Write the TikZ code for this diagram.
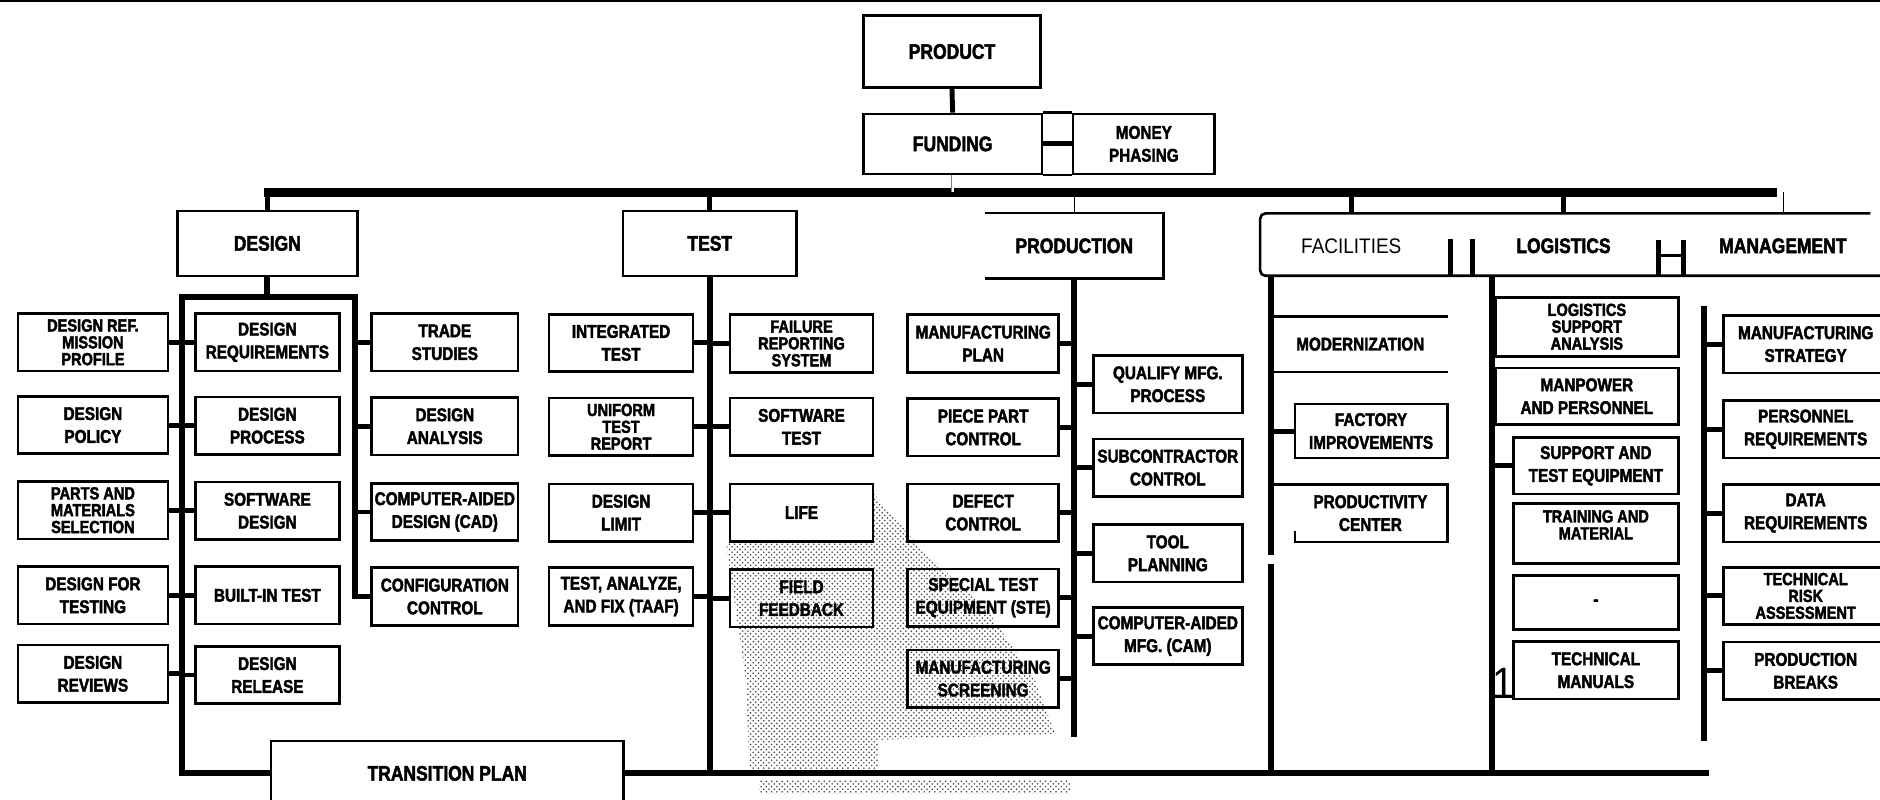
\documentclass[tikz,border=0pt]{standalone}
\usepackage{fontspec}
\setmainfont{Liberation Sans}[FakeStretch=0.83, BoldFeatures={FakeBold=2.2}]
\newfontfamily\plainfont{Liberation Sans}[FakeStretch=0.9]
\usetikzlibrary{patterns,positioning}
\newcommand{\itemfont}{\bfseries\fontsize{10.5}{13}\selectfont}
\newcommand{\tightfont}{\bfseries\fontsize{10}{9.6}\selectfont}
\newcommand{\headfont}{\bfseries\fontsize{12}{14}\selectfont}
\begin{document}
\begin{tikzpicture}[x=0.024cm, y=-0.024cm,
    boxline/.style={line width=1.5pt},
    elem/.style={draw, boxline, align=center, inner sep=0pt, minimum height=1.15cm, font=\itemfont},
    elemtri/.style={elem, font=\tightfont},
    topbox/.style={elem, minimum height=1.3cm, font=\headfont},
    bus/.style={line width=3.4pt},
    tie/.style={line width=2.8pt},
    mainbus/.style={line width=4.8pt}]
                \useasboundingbox (0,0) rectangle (1568,667);
                % Stippled area
                \fill[pattern=crosshatch dots, pattern color=black!75]
                    (729,412) -- (767,456) -- (825,511) -- (863,567) -- (880,612) -- (733,617)
                    -- (733,643) -- (625,643) -- (622,567) -- (606,456) -- (609,452) -- (729,452) -- cycle;
                \fill[pattern=crosshatch dots, pattern color=black!75] (633,651) rectangle (893,662);
                % Top
                \draw[line width=1pt] (0,1) -- (1568,1);
                \node[topbox, minimum width=3.55cm, minimum height=1.44cm] (product) at (794,43) {PRODUCT};
                \node[topbox, minimum width=3.58cm, minimum height=1.2cm] (funding) at (794.5,120) {FUNDING};
                \node[elem, minimum width=2.83cm, minimum height=1.2cm] (money) at (954,120) {MONEY\\PHASING};
                \draw[tie] (product.south) -- (funding.north);
                \draw[tie] (funding.east) -- (money.west);
                \draw[boxline] (funding.north east) -- (money.north west) (funding.south east) -- (money.south west);
                \coordinate (bus) at (220,160.5);
                \coordinate (busend) at (1482,160.5);
                \draw[mainbus] (bus) -- (busend);
                \draw[double, gray, line width=0.4pt, double distance=1.2pt] (funding.south) -- (funding.south |- bus);
                % Design
                \node[topbox, minimum width=3.6cm] (design) at (223,203) {DESIGN};
                \draw[tie] (design.north) -- (design.north |- bus);
                \foreach \n/\y/\s/\t in {1/285.5/elemtri/{DESIGN REF.\\MISSION\\PROFILE}, 2/354.5/elem/{DESIGN\\POLICY},
                        3/425.5/elemtri/{PARTS AND\\MATERIALS\\SELECTION}, 4/496.5/elem/{DESIGN FOR\\TESTING}, 5/562/elem/{DESIGN\\REVIEWS}}
                    \node[\s, minimum width=3.0cm] (dl\n) at (77.5,\y) {\t};
                \foreach \n/\y/\t in {1/285.5/{DESIGN\\REQUIREMENTS}, 2/355/{DESIGN\\PROCESS}, 3/426/{SOFTWARE\\DESIGN},
                        4/496.5/{BUILT-IN TEST}, 5/563/{DESIGN\\RELEASE}}
                    \node[elem, minimum width=2.88cm] (dm\n) at (223,\y) {\t};
                \foreach \n/\y/\t in {1/285.5/{TRADE\\STUDIES}, 2/355.5/{DESIGN\\ANALYSIS}, 3/427/{COMPUTER-AIDED\\DESIGN (CAD)},
                        4/497.5/{CONFIGURATION\\CONTROL}}
                    \node[elem, minimum width=2.93cm] (dr\n) at (371,\y) {\t};
                \node[topbox, minimum width=7.06cm] (transition) at (373,645) {TRANSITION PLAN};
                \coordinate (dlbus) at (152,248);
                \coordinate (drbus) at (296,248);
                \draw[bus] (design.south) -- (design.south |- dlbus);
                \draw[bus] (transition.west) -| (dlbus) -- (drbus) |- (dr4.west);
                \foreach \n in {1,...,5}
                    \draw[tie] (dl\n.east) -- (dl\n.east -| dlbus) (dm\n.west) -- (dm\n.west -| dlbus);
                \foreach \n in {1,...,3}
                    \draw[tie] (dr\n.west) -- (dr\n.west -| drbus);
                % Test
                \node[topbox, minimum width=3.48cm] (test) at (592,203) {TEST};
                \draw[tie] (test.north) -- (test.north |- bus);
                \foreach \n/\y/\s/\t in {1/286/elem/{INTEGRATED\\TEST}, 2/356/elemtri/{UNIFORM\\TEST\\REPORT},
                        3/427.5/elem/{DESIGN\\LIMIT}, 4/497.5/elem/{TEST, ANALYZE,\\AND FIX (TAAF)}}
                    \node[\s, minimum width=2.88cm] (tl\n) at (518,\y) {\t};
                \foreach \n/\y/\s/\t in {1/286.5/elemtri/{FAILURE\\REPORTING\\SYSTEM}, 2/356/elem/{SOFTWARE\\TEST},
                        3/427.5/elem/{LIFE}, 4/499/elem/{FIELD\\FEEDBACK}}
                    \node[\s, minimum width=2.86cm] (tr\n) at (668.5,\y) {\t};
                \coordinate (btmend) at (1425,645);
                \draw[bus] (transition.east) -- (btmend);
                \draw[bus] (test.south) -- (test.south |- transition.east);
                \foreach \n in {1,...,4}
                    \draw[tie] (tl\n.east) -- (tl\n.east -| test.south) (tr\n.west) -- (tr\n.west -| test.south);
                % Production
                \node[minimum width=3.55cm, minimum height=1.3cm, font=\headfont] (prod) at (896,205) {PRODUCTION};
                \draw[boxline] (prod.north west) -- (prod.north east) -- (prod.south east) -- (prod.south west);
                \draw[thin] (prod.north) -- (prod.north |- bus);
                \coordinate (prodend) at (896,615);
                \draw[bus] (prod.south) -- (prodend);
                \foreach \n/\y/\t in {1/286.5/{MANUFACTURING\\PLAN}, 2/356.5/{PIECE PART\\CONTROL}, 3/427.5/{DEFECT\\CONTROL},
                        4/498.5/{SPECIAL TEST\\EQUIPMENT (STE)}, 5/566/{MANUFACTURING\\SCREENING}}
                    \node[elem, minimum width=3.02cm] (pl\n) at (820,\y) {\t};
                \foreach \n/\y/\t in {1/320.5/{QUALIFY MFG.\\PROCESS}, 2/390/{SUBCONTRACTOR\\CONTROL}, 3/461.5/{TOOL\\PLANNING},
                        4/530.5/{COMPUTER-AIDED\\MFG. (CAM)}}
                    \node[elem, minimum width=2.98cm] (pr\n) at (974,\y) {\t};
                \foreach \n in {1,...,5}
                    \draw[tie] (pl\n.east) -- (pl\n.east -| prod.south);
                \foreach \n in {1,...,4}
                    \draw[tie] (pr\n.west) -- (pr\n.west -| prod.south);
                % Facilities, logistics, management header
                \coordinate (hdtop) at (0,178);
                \draw[boxline, rounded corners=3pt] (1560,178) -- (1051,178) -- (1051,230) -- (1570,230);
                \node[font=\plainfont\fontsize{12}{14}\selectfont] (fachead) at (1127,205) {FACILITIES};
                \node[font=\headfont] (loghead) at (1304,205) {LOGISTICS};
                \node[font=\headfont] (mghead) at (1487,205) {MANAGEMENT};
                \draw[tie] (fachead |- bus) -- (fachead |- hdtop);
                \draw[tie] (loghead |- bus) -- (loghead |- hdtop);
                \draw[thin] (mghead.north |- busend) -- (mghead.north |- hdtop);
                \draw[tie] (1210,199) -- (1210,230) (1228,199) -- (1228,230);
                \draw[tie] (1383,200) -- (1383,230) (1404,200) -- (1404,230);
                \draw[boxline] (1383,213) -- (1404,213);
                % Facilities
                \coordinate (fcbus) at (1060,230);
                \draw[bus] (fcbus) -- ++(0,233) ++(0,7) -- (fcbus |- btmend);
                \node[font=\itemfont, minimum width=3.48cm, minimum height=1.1cm] (mod) at (1134.5,287) {MODERNIZATION};
                \draw[boxline] (mod.north west) -- (mod.north east) (mod.south west) -- (mod.south east);
                \node[elem, minimum width=3.05cm, minimum height=1.08cm] (fac1) at (1143.5,359.5) {FACTORY\\IMPROVEMENTS};
                \draw[tie] (fac1.west) -- (fac1.west -| fcbus);
                \node[font=\itemfont, align=center] (fac2) at (1143,428) {PRODUCTIVITY\\CENTER};
                \draw[boxline] (1062,404) -- (1207,404) -- (1207,452) -- (1090,452) (1080,443) -- (1080,452) -- (1090,452);
                % Logistics
                \coordinate (lgbus) at (1244,230);
                \draw[bus] (lgbus) -- (lgbus |- btmend);
                \node[elemtri, minimum width=3.67cm, minimum height=1.18cm] (ls1) at (1323.5,272.5) {LOGISTICS\\SUPPORT\\ANALYSIS};
                \node[elem, minimum width=3.67cm, minimum height=1.13cm] (ls2) at (1323.5,330.5) {MANPOWER\\AND PERSONNEL};
                \node[elem, minimum width=3.31cm, minimum height=1.13cm] (ls3) at (1331,388.5) {SUPPORT AND\\TEST EQUIPMENT};
                \node[elem, minimum width=3.31cm, minimum height=1.2cm] (ls4) at (1331,445) {};
                \node[font=\tightfont, align=center, below=1pt of ls4.north] (ls4t) {TRAINING AND\\MATERIAL};
                \node[elem, minimum width=3.31cm, minimum height=1.08cm] (ls5) at (1331,502.5) {-};
                \node[elem, minimum width=3.31cm, minimum height=1.15cm] (ls6) at (1331,559) {TECHNICAL\\MANUALS};
                \draw[tie] (ls3.west) -- (ls3.west -| lgbus);
                \node[font=\plainfont\fontsize{25}{25}\selectfont, inner sep=0pt] (one) at (1254,570) {1};
                % Management
                \coordinate (mgtop) at (1421,255);
                \coordinate (mgend) at (1421,618);
                \draw[bus] (mgtop) -- (mgend);
                \foreach \n/\y/\s/\t in {1/287/elem/{MANUFACTURING\\STRATEGY}, 2/358/elem/{PERSONNEL\\REQUIREMENTS},
                        3/428/elem/{DATA\\REQUIREMENTS}, 4/497/elemtri/{TECHNICAL\\RISK\\ASSESSMENT}, 5/559.5/elem/{PRODUCTION\\BREAKS}}
                    \node[\s, minimum width=3.29cm] (mg\n) at (1506,\y) {\t};
                \foreach \n in {1,...,5}
                    \draw[tie] (mg\n.west) -- (mg\n.west -| mgtop);
            \end{tikzpicture}
\end{document}
